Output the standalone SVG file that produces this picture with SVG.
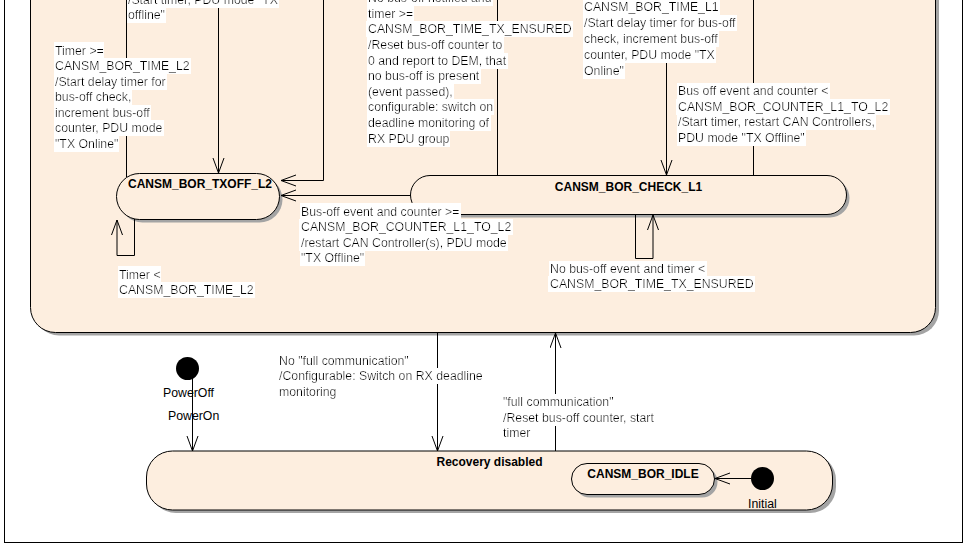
<svg xmlns="http://www.w3.org/2000/svg" width="965" height="545" viewBox="0 0 965 545">
  <style>
    .txt { font-family: "Liberation Sans", Arial, Helvetica, sans-serif; font-size: 12.3px; fill: #000; }
    .bg { filter: url(#labelBox); }
    .stname { font-family: "Liberation Sans", Arial, Helvetica, sans-serif; font-size: 12px; font-weight: bold; fill: #000; text-anchor: middle; }
    .state { fill: #FDEEDF; stroke: #000; stroke-width: 1; }
    .shadow { fill: #a4a4a4; }
    .edge { fill: none; stroke: #000; stroke-width: 1; }
    .arrow { marker-end: url(#openHead); }
    .dot { fill: #000; }
  </style>
  <defs>
    <!-- white box behind each label line -->
    <filter id="labelBox" x="-0.005" y="-0.04" width="1.01" height="1.08">
      <feFlood flood-color="#ffffff"/>
      <feComposite in="SourceGraphic" operator="over"/>
    </filter>
    <!-- open V arrowhead -->
    <marker id="openHead" markerUnits="userSpaceOnUse" markerWidth="17" markerHeight="13" refX="15.5" refY="6" orient="auto" viewBox="0 0 17 13">
      <path d="M0.5,0.5 L15.5,6 L0.5,11.5" fill="none" stroke="#000" stroke-width="1"/>
    </marker>
  </defs>

  <rect x="0" y="0" width="965" height="545" fill="#fff"/>
  <!-- diagram frame -->
  <rect x="4.5" y="-10" width="958" height="552.5" fill="none" stroke="#000" stroke-width="1"/>

  <!-- composite state (recovery enabled) -->
  <g id="recovery-enabled">
    <rect class="shadow" x="34" y="-37" width="905" height="372.5" rx="25"/>
    <rect class="state" x="30.5" y="-40" width="905" height="372.5" rx="25"/>
  </g>

  <g id="recovery-disabled">
    <rect class="shadow" x="150" y="454" width="686" height="59" rx="26"/>
    <rect class="state" x="146.5" y="451" width="686" height="59" rx="26"/>
    <text class="stname" x="489.5" y="466">Recovery disabled</text>
  </g>

  <g id="txoff-l2">
    <rect class="shadow" x="119.5" y="176.5" width="163" height="46" rx="23"/>
    <rect class="state" x="116.5" y="173.5" width="163" height="46" rx="23"/>
    <text class="stname" x="200" y="187.5">CANSM_BOR_TXOFF_L2</text>
  </g>

  <g id="check-l1">
    <rect class="shadow" x="413.5" y="178.5" width="436" height="39" rx="19.5"/>
    <rect class="state" x="410.5" y="175.5" width="436" height="39" rx="19.5"/>
    <text class="stname" x="628.5" y="191">CANSM_BOR_CHECK_L1</text>
  </g>

  <g id="idle">
    <rect class="shadow" x="574.5" y="466.5" width="143" height="31" rx="15.5"/>
    <rect class="state" x="571.5" y="463.5" width="143" height="31" rx="15.5"/>
    <text class="stname" x="643" y="478">CANSM_BOR_IDLE</text>
  </g>

  <g id="power-off">
    <circle class="dot" cx="187.5" cy="368.5" r="11.5"/>
  </g>

  <g id="initial">
    <circle class="dot" cx="762.5" cy="478.5" r="11.5"/>
  </g>

  <!-- transitions -->
  <g id="connectors">
    <path class="edge" d="M126.5,177 V-5"/>
    <path class="edge arrow" d="M218.5,-5 V173"/>
    <path class="edge arrow" d="M323.5,-5 V180.5 H281"/>
    <path class="edge arrow" d="M410.5,195.5 H281"/>
    <path class="edge" d="M497.5,175.5 V-5"/>
    <path class="edge arrow" d="M666.5,-5 V175"/>
    <path class="edge" d="M753.5,175.5 V-5"/>
    <path class="edge arrow" d="M134.5,219 V255.5 H117 V220"/>
    <path class="edge arrow" d="M635.5,214.5 V258.5 H653 V215"/>
    <path class="edge arrow" d="M192.5,377 V451"/>
    <path class="edge arrow" d="M437.5,333 V451"/>
    <path class="edge arrow" d="M555.5,451 V333"/>
    <path class="edge arrow" d="M751,478.5 H715"/>
  </g>

  <!-- transition labels -->
  <g id="labels">
    <text class="txt bg" x="128" y="3.5">/Start timer, PDU mode "TX</text>
    <text class="txt bg" x="128" y="19">offline"</text>

    <text class="txt bg" x="55" y="54.5">Timer &gt;=</text>
    <text class="txt bg" x="55" y="70">CANSM_BOR_TIME_L2</text>
    <text class="txt bg" x="55" y="85.6">/Start delay timer for</text>
    <text class="txt bg" x="55" y="101.2">bus-off check,</text>
    <text class="txt bg" x="55" y="116.8">increment bus-off</text>
    <text class="txt bg" x="55" y="132.4">counter, PDU mode</text>
    <text class="txt bg" x="55" y="148">"TX Online"</text>

    <text class="txt bg" x="368" y="2.2">No bus-off notified and</text>
    <text class="txt bg" x="368" y="17.8">timer &gt;=</text>
    <text class="txt bg" x="368" y="33.4">CANSM_BOR_TIME_TX_ENSURED</text>
    <text class="txt bg" x="368" y="49">/Reset bus-off counter to</text>
    <text class="txt bg" x="368" y="64.6">0 and report to DEM, that</text>
    <text class="txt bg" x="368" y="80.2">no bus-off is present</text>
    <text class="txt bg" x="368" y="95.8">(event passed),</text>
    <text class="txt bg" x="368" y="111.4">configurable: switch on</text>
    <text class="txt bg" x="368" y="127">deadline monitoring of</text>
    <text class="txt bg" x="368" y="142.6">RX PDU group</text>

    <text class="txt bg" x="584" y="11.3">CANSM_BOR_TIME_L1</text>
    <text class="txt bg" x="584" y="27.1">/Start delay timer for bus-off</text>
    <text class="txt bg" x="584" y="42.9">check, increment bus-off</text>
    <text class="txt bg" x="584" y="58.7">counter, PDU mode "TX</text>
    <text class="txt bg" x="584" y="74.5">Online"</text>

    <text class="txt bg" x="678" y="95.2">Bus off event and counter &lt;</text>
    <text class="txt bg" x="678" y="110.8">CANSM_BOR_COUNTER_L1_TO_L2</text>
    <text class="txt bg" x="678" y="126.4">/Start timer, restart CAN Controllers,</text>
    <text class="txt bg" x="678" y="142">PDU mode "TX Offline"</text>

    <text class="txt bg" x="301" y="215.5">Bus-off event and counter &gt;=</text>
    <text class="txt bg" x="301" y="231.1">CANSM_BOR_COUNTER_L1_TO_L2</text>
    <text class="txt bg" x="301" y="246.7">/restart CAN Controller(s), PDU mode</text>
    <text class="txt bg" x="301" y="262.3">"TX Offline"</text>

    <text class="txt bg" x="119" y="278.5">Timer &lt;</text>
    <text class="txt bg" x="119" y="294">CANSM_BOR_TIME_L2</text>

    <text class="txt bg" x="550" y="272.8">No bus-off event and timer &lt;</text>
    <text class="txt bg" x="550" y="288.3">CANSM_BOR_TIME_TX_ENSURED</text>

    <text class="txt" x="163" y="397">PowerOff</text>
    <text class="txt" x="168" y="420">PowerOn</text>

    <text class="txt bg" x="279" y="364.5">No "full communication"</text>
    <text class="txt bg" x="279" y="380">/Configurable: Switch on RX deadline</text>
    <text class="txt bg" x="279" y="395.5">monitoring</text>

    <text class="txt bg" x="503" y="406">"full communication"</text>
    <text class="txt bg" x="503" y="421.5">/Reset bus-off counter, start</text>
    <text class="txt bg" x="503" y="437">timer</text>

    <text class="txt" x="748" y="507.5">Initial</text>
  </g>
</svg>
